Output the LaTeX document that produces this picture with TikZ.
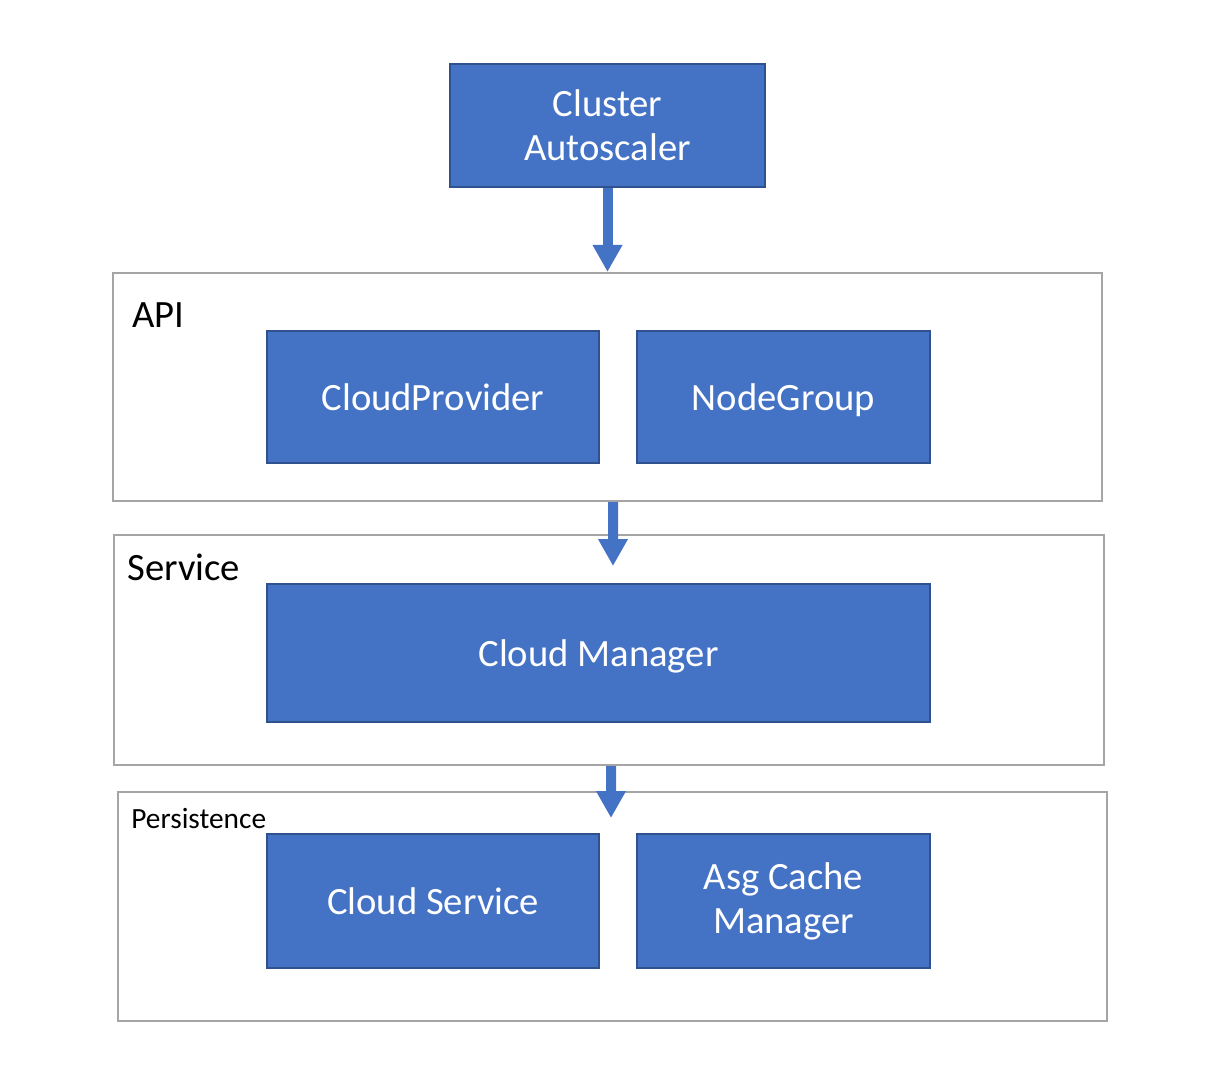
\documentclass[tikz,border=0pt]{standalone}
\usepackage{fontspec}
\setmainfont{Carlito}
\usetikzlibrary{arrows.meta,positioning}
\definecolor{BoxBlue}{RGB}{68,114,196}
\definecolor{BoxEdge}{RGB}{47,82,143}
\definecolor{LayerGray}{RGB}{165,165,165}

\begin{document}
\begin{tikzpicture}[x=0.02cm, y=-0.02cm,
  compbox/.style={draw=BoxEdge, line width=1.2pt, fill=BoxBlue, text=white, align=center, font=\fontsize{22}{25}\selectfont, inner sep=0pt},
  oneline/.style={text height=15.5pt, text depth=0pt},
  layerbox/.style={draw=LayerGray, line width=1.2pt, fill=none, inner sep=0pt},
  layerlabel/.style={anchor=west, inner sep=0pt, font=\fontsize{22}{25}\selectfont},
  flow/.style={draw=BoxBlue, line width=0.2cm, -{Triangle[width=0.56cm,length=0.54cm]}}]
\useasboundingbox (0,0) rectangle (1228,1078);
% layers
\node[layerbox, minimum width=19.78cm, minimum height=4.56cm] (api) at (607.5,387) {};
\node[layerbox, minimum width=19.8cm, minimum height=4.6cm] (svc) at (609,650) {};
\node[layerbox, minimum width=19.78cm, minimum height=4.58cm] (pers) at (612.5,906.5) {};
\node[layerlabel] (apilbl) at (132,315) {API};
\node[layerlabel] (svclbl) at (127,567) {Service};
\node[layerlabel, font=\fontsize{16.7}{20}\selectfont] (perslbl) at (131,819) {Persistence};
% components
\node[compbox, minimum width=6.3cm, minimum height=2.46cm] (ca) at (607.5,125.5) {Cluster\\Autoscaler};
\node[compbox, oneline, minimum width=6.64cm, minimum height=2.64cm] (cp) at (433,397) {CloudProvider};
\node[compbox, oneline, minimum width=5.86cm, minimum height=2.64cm] (ng) at (783.5,397) {NodeGroup};
\node[compbox, oneline, minimum width=13.26cm, minimum height=2.76cm] (cm) at (598.5,653) {Cloud Manager};
\node[compbox, oneline, minimum width=6.64cm, minimum height=2.68cm] (cs) at (433,901) {Cloud Service};
\node[compbox, minimum width=5.86cm, minimum height=2.68cm] (acm) at (783.5,901) {Asg Cache\\Manager};
% arrows
\coordinate (svcin) at (613,566);
\coordinate (persin) at (611,818);
\draw[flow] (ca.south) -- (api.north);
\draw[flow] ([xshift=0.11cm]api.south) -- (svcin);
\draw[flow] ([xshift=0.04cm]svc.south) -- (persin);
\end{tikzpicture}
\end{document}
